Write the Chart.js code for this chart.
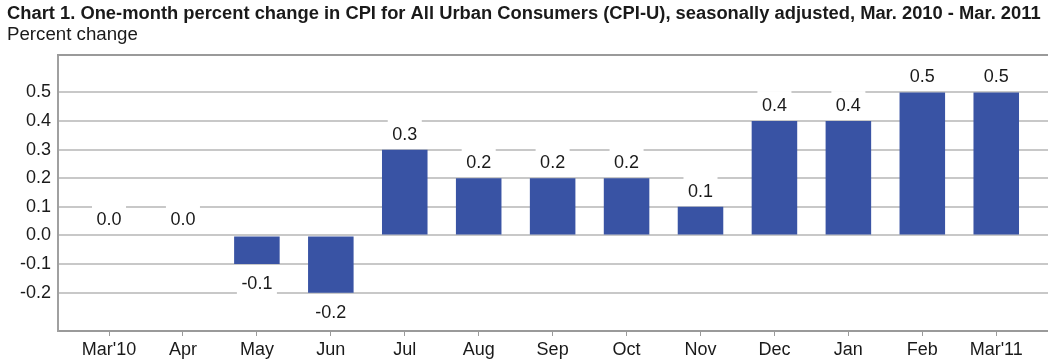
<!DOCTYPE html>
<html><head><meta charset="utf-8">
<script src="https://cdn.jsdelivr.net/npm/chart.js@4/dist/chart.umd.min.js"></script>
<style>html,body{margin:0;padding:0;background:#fff;overflow:hidden}#wrap{width:1048px;height:364px;position:relative}</style>
</head><body><div id="wrap"><canvas id="c" width="1048" height="364"></canvas></div>
<script>
const titleText = "Chart 1. One-month percent change in CPI for All Urban Consumers (CPI-U), seasonally adjusted, Mar. 2010 - Mar. 2011";
const subtitleText = "Percent change";
const categories = ["Mar'10","Apr","May","Jun","Jul","Aug","Sep","Oct","Nov","Dec","Jan","Feb","Mar'11"];
const values = [0.0, 0.0, -0.1, -0.2, 0.3, 0.2, 0.2, 0.2, 0.1, 0.4, 0.4, 0.5, 0.5];
const yTicks = [-0.2, -0.1, 0.0, 0.1, 0.2, 0.3, 0.4, 0.5];

const FONT = "'Liberation Sans', Arial, sans-serif";
const TEXT = '#1a1a1a';

const titlePlugin = {
  id: 'titles',
  afterDraw(chart) {
    const ctx = chart.ctx;
    ctx.save();
    ctx.fillStyle = TEXT;
    ctx.textAlign = 'left';
    ctx.textBaseline = 'alphabetic';
    ctx.font = "bold 18.35px " + FONT;
    ctx.fillText(titleText, 7, 19);
    ctx.font = "18.7px " + FONT;
    ctx.fillText(subtitleText, 7, 40);
    ctx.restore();
  }
};

const framePlugin = {
  id: 'frame',
  afterDatasetsDraw(chart) {
    const ctx = chart.ctx, a = chart.chartArea;
    ctx.save();
    ctx.strokeStyle = '#9a9a9a';
    ctx.lineWidth = 2;
    ctx.beginPath();
    ctx.moveTo(a.left - 1, a.top);
    ctx.lineTo(a.right, a.top);
    ctx.stroke();
    ctx.restore();
  }
};

const labelPlugin = {
  id: 'barLabels',
  afterDatasetsDraw(chart) {
    const ctx = chart.ctx;
    const meta = chart.getDatasetMeta(0);
    const zero = chart.scales.y.getPixelForValue(0);
    ctx.save();
    ctx.font = "18px " + FONT;
    ctx.textAlign = 'center';
    ctx.textBaseline = 'middle';
    meta.data.forEach((bar, i) => {
      const v = values[i];
      const txt = v.toFixed(1);
      const cy = v >= 0 ? Math.min(bar.y, zero) - 16 : Math.max(bar.y, zero) + 19;
      const w = ctx.measureText(txt).width + 9;
      ctx.fillStyle = '#ffffff';
      ctx.fillRect(bar.x - w / 2, cy - 14, w, 28);
      ctx.fillStyle = TEXT;
      ctx.fillText(txt, bar.x, cy + 1);
    });
    ctx.restore();
  }
};

new Chart(document.getElementById('c'), {
  type: 'bar',
  data: {
    datasets: [{
      data: values.map((v, i) => ({ x: i, y: v })),
      backgroundColor: '#3953a4',
      borderWidth: 0,
      barPercentage: 0.77,
      categoryPercentage: 0.8
    }]
  },
  options: {
    responsive: false,
    devicePixelRatio: 1,
    animation: false,
    layout: { padding: { top: 55, left: 0, right: 0, bottom: 0 } },
    plugins: { legend: { display: false }, tooltip: { enabled: false }, title: { display: false } },
    scales: {
      x: {
        type: 'linear',
        offset: false,
        min: -0.69,
        max: 12.7,
        afterBuildTicks: (s) => { s.ticks = categories.map((_, i) => ({ value: i })); },
        afterFit: (s) => { s.height = 33; },
        ticks: {
          callback: (v) => categories[v],
          font: { family: FONT, size: 18 },
          color: TEXT,
          padding: 3,
          maxRotation: 0,
          autoSkip: false
        },
        grid: { display: true, offset: false, drawOnChartArea: false, drawTicks: true, tickLength: 5, color: '#9a9a9a', lineWidth: 1 },
        border: { display: true, color: '#9a9a9a', width: 2 }
      },
      y: {
        min: -0.334,
        max: 0.631,
        afterBuildTicks: (s) => { s.ticks = yTicks.map(v => ({ value: v })); },
        afterFit: (s) => { s.width = 58; },
        ticks: {
          callback: (v) => v.toFixed(1),
          font: { family: FONT, size: 18 },
          color: TEXT,
          padding: 7
        },
        grid: { color: '#c8c8c8', lineWidth: 2, drawTicks: false },
        border: { display: true, color: '#a0a0a0', width: 2 }
      }
    }
  },
  plugins: [titlePlugin, framePlugin, labelPlugin]
});
</script>
</body></html>
